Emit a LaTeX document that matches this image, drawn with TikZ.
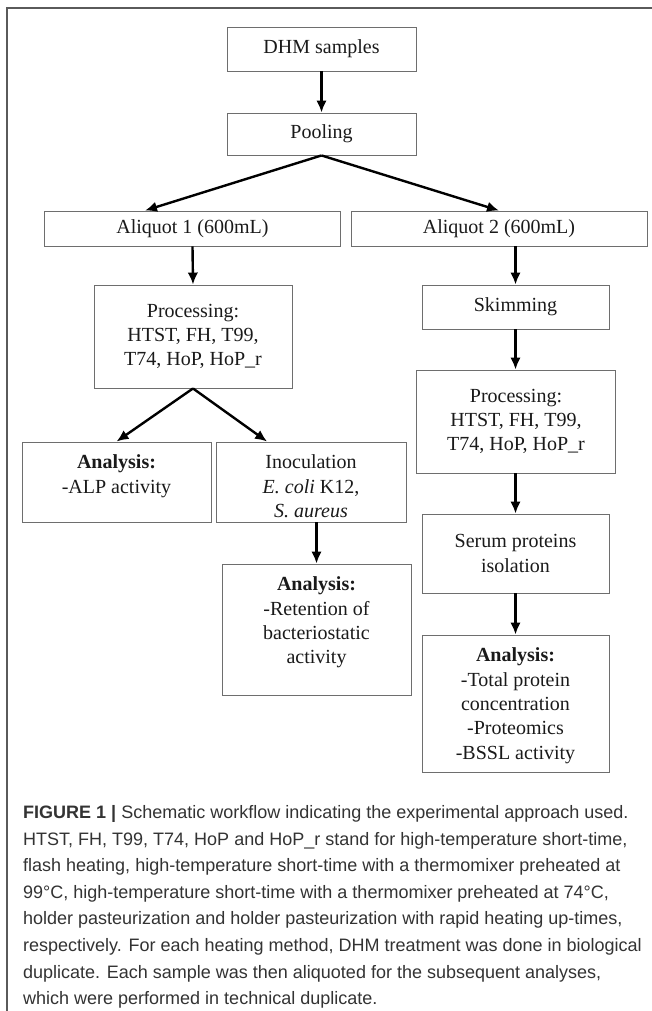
\documentclass[tikz,border=0pt]{standalone}
\usepackage{fontspec}
\setmainfont{Liberation Serif}
\newfontfamily\capfont{Liberation Sans}
\usetikzlibrary{arrows.meta,calc}
\definecolor{boxgray}{HTML}{6E6E6E}
\definecolor{framegray}{HTML}{5A5A5A}
\definecolor{txt}{HTML}{1A1A1A}
\definecolor{captxt}{HTML}{333333}
\begin{document}
\begin{tikzpicture}[x=1pt,y=-1pt,
  box/.style={draw=boxgray, line width=0.9pt, inner sep=0pt, text=txt,
    font=\fontsize{20}{24.3}\selectfont},
  arr/.style={-{Latex[length=12pt,width=10.5pt]}, line width=2.4pt, black},
  captext/.style={anchor=base west, inner sep=0pt, text=captxt,
    font=\capfont\fontsize{18}{26}\selectfont}]
\useasboundingbox (0,0) rectangle (652,1011);
\fill[white] (0,0) rectangle (652,1011);
% frame
\draw[framegray, line width=1.3pt] (652,8) -- (7,8) -- (7,1011);
% boxes
\node[box] (dhm) at (321.5,49) {\parbox[c][44pt][c]{189pt}{\centering DHM samples}};
\node[box] (pool) at (321.5,134) {\parbox[c][42pt][c]{189pt}{\centering Pooling}};
\node[box] (al1) at (192.5,228.5) {\parbox[c][35pt][c]{296pt}{\centering Aliquot 1 (600mL)}};
\node[box] (al2) at (499,228.5) {\parbox[c][35pt][c]{296pt}{\centering Aliquot 2 (600mL)}};
\node[box] (proc1) at (193,336.5) {\parbox[c][103pt][c]{198pt}{\centering Processing:\\HTST, FH, T99,\\T74, HoP, HoP\_r}};
\node[box] (skim) at (515.5,307) {\parbox[c][44pt][c]{187pt}{\centering Skimming}};
\node[box] (an1) at (116.5,482) {\parbox[c][80pt][t]{189pt}{\vspace*{13pt}\centering \textbf{Analysis:}\\-ALP activity}};
\node[box] (inoc) at (311,482) {\parbox[c][80pt][t]{190pt}{\vspace*{13pt}\centering Inoculation\\\textit{E. coli} K12,\\\textit{S. aureus}}};
\node[box] (proc2) at (516,421.5) {\parbox[c][103pt][c]{199pt}{\centering Processing:\\HTST, FH, T99,\\T74, HoP, HoP\_r}};
\node[box] (anm) at (316.5,629.5) {\parbox[c][131pt][t]{189pt}{\vspace*{13pt}\centering \textbf{Analysis:}\\-Retention of\\bacteriostatic\\activity}};
\node[box] (serum) at (515.5,553.5) {\parbox[c][79pt][c]{187pt}{\centering Serum proteins\\isolation}};
\node[box] (anr) at (515.5,703.5) {\parbox[c][137pt][t]{187pt}{\vspace*{13pt}\centering \textbf{Analysis:}\\-Total protein\\concentration\\-Proteomics\\-BSSL activity}};
% arrows
\draw[arr] (dhm) -- (pool);
\draw[arr] (pool.south) -- ($(al1.north west)!0.34!(al1.north east)$);
\draw[arr] (pool.south) -- (al2.north);
\draw[arr] (al1.south) -- (proc1.north);
\draw[arr] (al2.south -| skim.north) -- (skim.north);
\draw[arr] (proc1.south) -- (an1.north);
\draw[arr] (proc1.south) -- ($(inoc.north west)!0.27!(inoc.north east)$);
\draw[arr] (skim.south) -- (skim.south |- proc2.north);
\draw[arr] (inoc.south -| anm.north) -- (anm.north);
\draw[arr] (proc2.south -| serum.north) -- (serum.north);
\draw[arr] (serum) -- (anr);
% caption
\node[captext] (c1) at (23,818.5) {\textbf{FIGURE 1 |} Schematic workflow indicating the experimental approach used.};
\node[captext] (c2) at (23,845.1) {HTST, FH, T99, T74, HoP and HoP\_r stand for high-temperature short-time,};
\node[captext] (c3) at (23,871.7) {flash heating, high-temperature short-time with a thermomixer preheated at};
\node[captext] (c4) at (23,898.3) {99°C, high-temperature short-time with a thermomixer preheated at 74°C,};
\node[captext] (c5) at (23,924.9) {holder pasteurization and holder pasteurization with rapid heating up-times,};
\node[captext] (c6) at (23,951.5) {respectively. For each heating method, DHM treatment was done in biological};
\node[captext] (c7) at (23,978.1) {duplicate. Each sample was then aliquoted for the subsequent analyses,};
\node[captext] (c8) at (23,1004.7) {which were performed in technical duplicate.};
\end{tikzpicture}
\end{document}
